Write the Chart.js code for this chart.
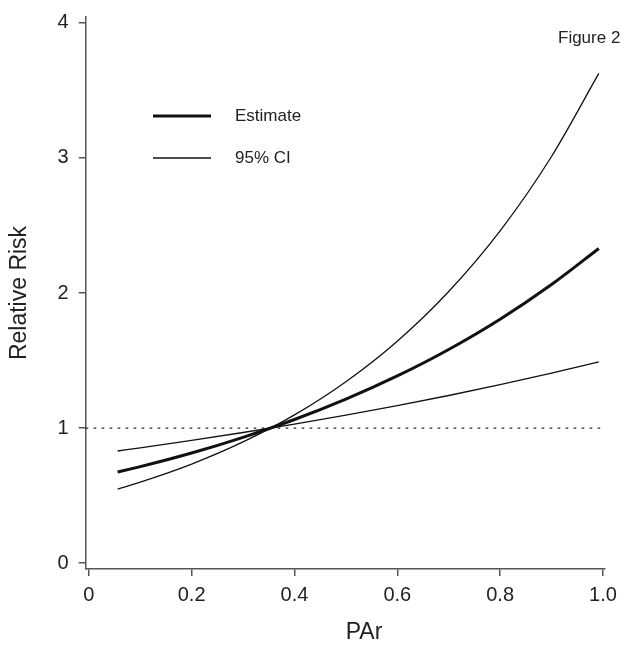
<!DOCTYPE html>
<html>
<head>
<meta charset="utf-8">
<script src="https://cdn.jsdelivr.net/npm/chart.js@4.4.1/dist/chart.umd.min.js"></script>
<style>
  html, body { margin: 0; padding: 0; background: #fff; }
  #wrap { width: 640px; height: 667px; position: relative; }
</style>
</head>
<body>
<div id="wrap"><canvas id="rrChart"></canvas></div>
<script>
// values
const parValues = [0.056, 0.1, 0.2, 0.3, 0.4, 0.5, 0.6, 0.7, 0.8, 0.9, 0.992];
const estimate = [0.674, 0.714, 0.815, 0.931, 1.063, 1.214, 1.386, 1.582, 1.806, 2.063, 2.330];
const ciUpper = [0.548, 0.599, 0.733, 0.897, 1.097, 1.343, 1.643, 2.011, 2.460, 3.011, 3.626];
const ciLower = [0.830, 0.853, 0.908, 0.967, 1.029, 1.096, 1.166, 1.241, 1.321, 1.407, 1.490];
const xTicks = [0, 0.2, 0.4, 0.6, 0.8, 1.0];
const yTicks = [0, 1, 2, 3, 4];
const refLine = [[-0.006, 1], [1.004, 1]];

const FONT = "'Liberation Sans', Arial, sans-serif";
const toPts = (xs, ys) => xs.map((x, i) => ({ x: x, y: ys[i] }));

const legendAndLabel = {
    id: "legendAndLabel",
    afterDraw(chart) {
        const c = chart.ctx;
        c.save();
        c.fillStyle = "#222";
        c.textBaseline = "middle";
        c.font = "17px " + FONT;
        c.fillText("Figure 2", 558, 38);

        // x axis title, sits a bit right of centre in the original
        c.font = "23px " + FONT;
        c.textAlign = "center";
        c.fillText("PAr", 364, 633);
        c.textAlign = "left";

        const items = [
            { label: "Estimate", ds: chart.data.datasets[0], y: 116 },
            { label: "95% CI", ds: chart.data.datasets[1], y: 158 },
        ];
        c.font = "17px " + FONT;
        items.forEach((it) => {
            c.strokeStyle = it.ds.borderColor;
            c.lineWidth = it.ds.borderWidth;
            c.beginPath();
            c.moveTo(153, it.y);
            c.lineTo(211, it.y);
            c.stroke();
            c.fillText(it.label, 235, it.y);
        });
        c.restore();
    },
};

const lineDefaults = { pointRadius: 0, fill: false, cubicInterpolationMode: "monotone" };

new Chart(document.getElementById("rrChart"), {
    type: "line",
    data: {
        datasets: [
            { ...lineDefaults, label: "Estimate", data: toPts(parValues, estimate), borderColor: "#111", borderWidth: 3 },
            { ...lineDefaults, label: "95% CI", data: toPts(parValues, ciUpper), borderColor: "#111", borderWidth: 1.3 },
            { ...lineDefaults, label: "95% CI lower", data: toPts(parValues, ciLower), borderColor: "#111", borderWidth: 1.3 },
            {
                label: "ref",
                data: refLine.map(([x, y]) => ({ x, y })),
                borderColor: "#222",
                borderWidth: 1.3,
                borderDash: [2.5, 5.5],
                pointRadius: 0,
            },
        ],
    },
    options: {
        responsive: true,
        maintainAspectRatio: false,
        animation: false,
        layout: { padding: { top: 4, right: 35, bottom: 53, left: 6 } },
        scales: {
            x: {
                type: "linear",
                min: -0.006,
                max: 1.004,
                afterBuildTicks: (axis) => { axis.ticks = xTicks.map((v) => ({ value: v })); },
                grid: { drawOnChartArea: false, drawTicks: true, tickLength: 7, color: "#555", lineWidth: 1.5 },
                border: { display: true, color: "#555", width: 1.5 },
                ticks: {
                    color: "#222",
                    font: { family: FONT, size: 20 },
                    padding: 7,
                    maxRotation: 0,
                    callback: (v) => (v === 0 ? "0" : v.toFixed(1)),
                },
            },
            y: {
                type: "linear",
                min: -0.044,
                max: 4.044,
                afterBuildTicks: (axis) => { axis.ticks = yTicks.map((v) => ({ value: v })); },
                grid: { drawOnChartArea: false, drawTicks: true, tickLength: 7, color: "#555", lineWidth: 1.5 },
                border: { display: true, color: "#555", width: 1.5 },
                ticks: {
                    color: "#222",
                    font: { family: FONT, size: 20, lineHeight: 0.7 },
                    padding: 10,
                    callback: (v) => String(v),
                },
                title: { display: true, text: "Relative Risk", color: "#222", font: { family: FONT, size: 23 }, padding: { top: 0, bottom: 14 } },
            },
        },
        plugins: {
            legend: { display: false },
            tooltip: { enabled: false },
        },
    },
    plugins: [legendAndLabel],
});
</script>
</body>
</html>
